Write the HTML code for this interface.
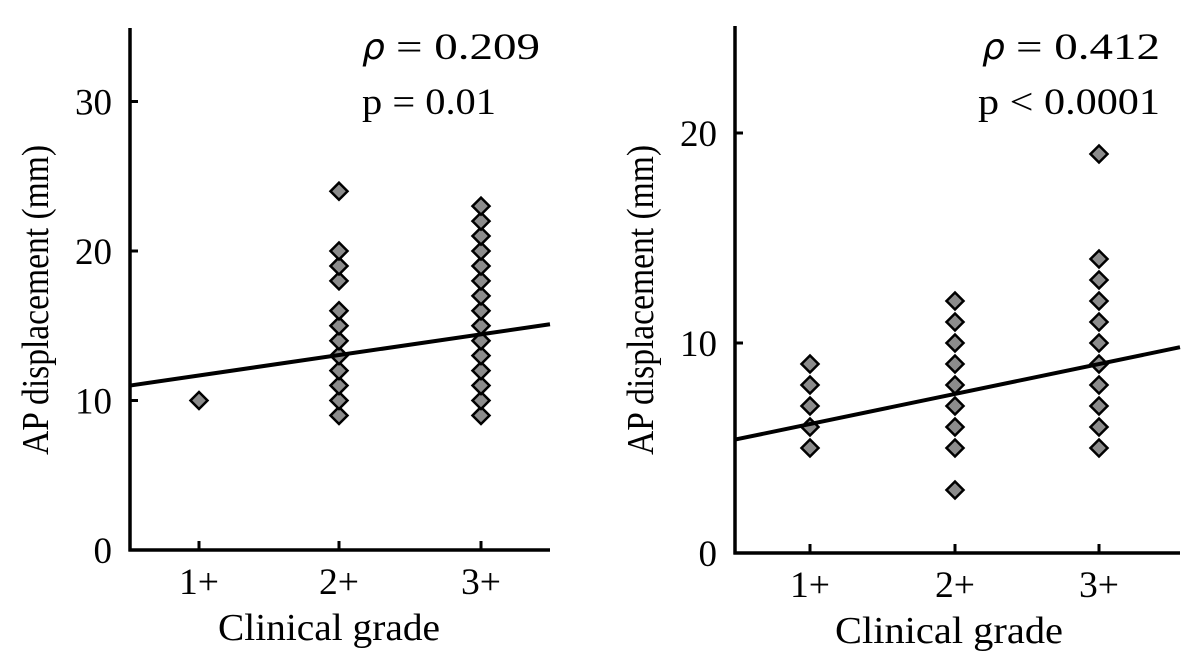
<!DOCTYPE html>
<html><head><meta charset="utf-8"><style>
html,body{margin:0;padding:0;background:#fff;width:1200px;height:667px;overflow:hidden}
svg text{font-family:"Liberation Serif",serif;fill:#000}
</style></head><body>
<svg id="chart" width="1200" height="667" xmlns="http://www.w3.org/2000/svg"></svg>
<script>
const categories=["1+","2+","3+"];
const leftVals=[[10],[9,10,11,12,13,14,15,16,18,19,20,24],[9,10,11,12,13,14,15,16,17,18,19,20,21,22,23]];
const leftTicks=[0,10,20,30];
const leftFit=[11.0,15.1];
const rightVals=[[5,6,7,8,9],[3,5,6,7,8,9,10,11,12],[5,6,7,8,9,10,11,12,13,14,19]];
const rightTicks=[0,10,20];
const rightFit=[5.4,9.8];
const leftStats=["= 0.209","p = 0.01"];
const rightStats=["= 0.412","p < 0.0001"];

const svg=document.getElementById('chart');
const NS='http://www.w3.org/2000/svg';
function mk(tag,attrs,parent){const e=document.createElementNS(NS,tag);for(const k in attrs)e.setAttribute(k,attrs[k]);(parent||svg).appendChild(e);return e;}

function panel(cfg){
  const g=mk('g',{});
  
  
  const y=v=>cfg.y0-v*cfg.py;
  const x=i=>cfg.cx[i];
  const ya=mk('line',{x1:cfg.ax,y1:cfg.top,x2:cfg.ax,y2:cfg.y0+1.5,stroke:'#000','stroke-width':3.5},g);
  
  
  const xa=mk('line',{x1:cfg.ax-1.5,y1:cfg.y0,x2:cfg.right,y2:cfg.y0,stroke:'#000','stroke-width':3.5},g);
  
  
  cfg.ticks.forEach(t=>{
    mk('line',{x1:cfg.ax,y1:y(t),x2:cfg.ax+8,y2:y(t),stroke:'#000','stroke-width':3},g);
    const tl=mk('text',{x:cfg.ax-18,y:y(t)+13,'text-anchor':'end','font-size':37},g);
    tl.textContent=t;
    
    
  });
  categories.forEach((c,i)=>{
    mk('line',{x1:x(i),y1:cfg.y0,x2:x(i),y2:cfg.y0-9,stroke:'#000','stroke-width':3},g);
    const tl=mk('text',{x:x(i),y:cfg.y0+44,'text-anchor':'middle','font-size':37,textLength:40,lengthAdjust:'spacingAndGlyphs'},g);
    tl.textContent=c;
    
    
  });
  const xt=mk('text',{x:cfg.xtX,y:cfg.y0+90,'text-anchor':'start','font-size':38,textLength:cfg.xtLen,lengthAdjust:'spacingAndGlyphs'},g);
  xt.textContent='Clinical grade';
  
  
  const ytx=cfg.ax-82, yty=455;
  const yt=mk('text',{x:ytx,y:yty,'text-anchor':'start','font-size':38,textLength:310,lengthAdjust:'spacingAndGlyphs',transform:`rotate(-90 ${ytx} ${yty})`},g);
  yt.textContent='AP displacement (mm)';
  
  
  cfg.vals.forEach((arr,i)=>arr.forEach(v=>{
    const cx=x(i),cy=y(v),r=8.5;
    const p=mk('polygon',{points:`${cx},${cy-r} ${cx+r},${cy} ${cx},${cy+r} ${cx-r},${cy}`,fill:'#8c8c8c',stroke:'#000','stroke-width':2.5},g);
    
    
  }));
  const fl=mk('line',{x1:cfg.ax,y1:y(cfg.fit[0]),x2:cfg.right,y2:y(cfg.fit[1]),stroke:'#000','stroke-width':4},g);
  
  
  const rho=mk('text',{x:cfg.rhoX,y:59,style:'font-family:"DejaVu Sans",sans-serif;font-style:italic;font-size:36px'},g);
  rho.textContent='ρ';
  
  
  const s1=mk('text',{x:cfg.rhoX+34,y:59,'font-size':37,textLength:cfg.statX-cfg.rhoX-34,lengthAdjust:'spacingAndGlyphs'},g);
  s1.textContent=cfg.stats[0];
  
  
  const s2=mk('text',{x:cfg.pX,y:114,'font-size':37,textLength:cfg.pEnd-cfg.pX,lengthAdjust:'spacingAndGlyphs'},g);
  s2.textContent=cfg.stats[1];
  
  
}
panel({name:'left-panel',ax:130,top:28,y0:550,py:14.95,right:550,cx:[199,339,481],vals:leftVals,ticks:leftTicks,fit:leftFit,stats:leftStats,statX:540,rhoX:362,pX:362,pEnd:496,xtX:218,xtLen:222});
panel({name:'right-panel',ax:735,top:26,y0:553,py:21,right:1180,cx:[810,955,1099],vals:rightVals,ticks:rightTicks,fit:rightFit,stats:rightStats,statX:1160,rhoX:982,pX:978,pEnd:1160,xtX:835,xtLen:228});
</script>
</body></html>
